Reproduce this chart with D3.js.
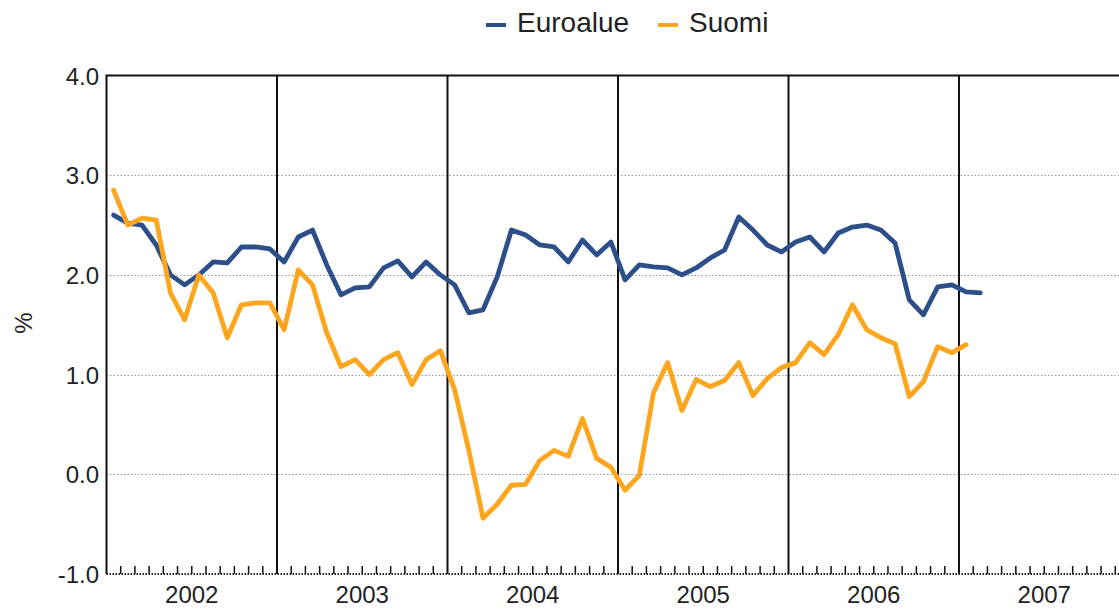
<!DOCTYPE html>
<html>
<head>
<meta charset="utf-8">
<script src="https://cdn.jsdelivr.net/npm/d3@7"></script>
<style>
  body { margin: 0; background: #fff; }
  svg { display: block; font-family: "Liberation Sans", Arial, sans-serif; }
</style>
</head>
<body>
<svg width="1119" height="609"></svg>
<script>
// kuukausittaiset arvot tammikuusta 2002 alkaen (%)
const years = [2002, 2003, 2004, 2005, 2006, 2007];
const yTicks = [-1, 0, 1, 2, 3, 4];

const euroalue = [
  2.6, 2.52, 2.5, 2.3, 2.0, 1.9, 2.0, 2.13, 2.12, 2.28, 2.28, 2.26,
  2.13, 2.38, 2.45, 2.1, 1.8, 1.87, 1.88, 2.07, 2.14, 1.98, 2.13, 2.0,
  1.9, 1.62, 1.65, 1.98, 2.45, 2.4, 2.3, 2.28, 2.13, 2.35, 2.2, 2.33,
  1.95, 2.1, 2.08, 2.07, 2.0, 2.07, 2.17, 2.25, 2.58, 2.45, 2.3, 2.23,
  2.33, 2.38, 2.23, 2.42, 2.48, 2.5, 2.45, 2.32, 1.75, 1.6, 1.88, 1.9,
  1.83, 1.82
];
const suomi = [
  2.85, 2.5, 2.57, 2.55, 1.82, 1.55, 2.0, 1.82, 1.37, 1.7, 1.72, 1.72,
  1.45, 2.05, 1.9, 1.42, 1.08, 1.15, 1.0, 1.15, 1.22, 0.9, 1.15, 1.24,
  0.85, 0.24, -0.44, -0.3, -0.11, -0.1, 0.14, 0.24, 0.18, 0.56, 0.16, 0.07,
  -0.16, -0.01, 0.82, 1.12, 0.64, 0.95, 0.88, 0.94, 1.12, 0.79, 0.96, 1.07,
  1.12, 1.32, 1.2, 1.4, 1.7, 1.45, 1.37, 1.31, 0.78, 0.93, 1.28, 1.22,
  1.3
];

const series = [
  {name: "Euroalue", values: euroalue, color: "#2c4f8a"},
  {name: "Suomi", values: suomi, color: "#fda51c"}
];

const svg = d3.select("svg");
const nMonths = years.length * 12;

// x: kuukausi-indeksi, y: prosentti
const x = d3.scaleLinear().domain([0, nMonths]).range([106.5, 1129.5]);
const y = d3.scaleLinear().domain([-1, 4]).range([574, 75.5]);
const plotL = x(0), plotR = x(nMonths), plotT = y(4), plotB = y(-1);

// vaakasuorat apuviivat
svg.append("g")
  .selectAll("line")
  .data(yTicks.filter(d => d > -1 && d < 4))
  .join("line")
  .attr("x1", plotL).attr("x2", plotR)
  .attr("y1", d => Math.round(y(d)) + 0.5).attr("y2", d => Math.round(y(d)) + 0.5)
  .attr("stroke", "#999")
  .attr("stroke-width", 1.2)
  .attr("stroke-dasharray", "1.5,2");

// kuukausimerkit alareunassa
const monthTicks = d3.range(1, nMonths).filter(i => i % 12 !== 0);
svg.append("g")
  .selectAll("line")
  .data(monthTicks)
  .join("line")
  .attr("x1", d => x(d)).attr("x2", d => x(d))
  .attr("y1", plotB - 8).attr("y2", plotB)
  .attr("stroke", "#111")
  .attr("stroke-width", 1.5);

// alareuna pisteviivana
svg.append("line")
  .attr("x1", plotL).attr("x2", plotR)
  .attr("y1", plotB).attr("y2", plotB)
  .attr("stroke", "#222")
  .attr("stroke-width", 2)
  .attr("stroke-dasharray", "1.5,1.5");

// vuosirajat
svg.append("g")
  .selectAll("line")
  .data(d3.range(1, years.length))
  .join("line")
  .attr("x1", d => x(d * 12)).attr("x2", d => x(d * 12))
  .attr("y1", plotT).attr("y2", plotB)
  .attr("stroke", "#111")
  .attr("stroke-width", 2);

// kehys: vasen ja ylä
svg.append("path")
  .attr("d", `M ${plotL} ${plotB} L ${plotL} ${plotT} L ${plotR} ${plotT}`)
  .attr("fill", "none")
  .attr("stroke", "#111")
  .attr("stroke-width", 2);

// y-akselin luvut (tavallinen tavuviiva miinusmerkkinä)
svg.append("g")
  .selectAll("text")
  .data(yTicks)
  .join("text")
  .attr("x", 99)
  .attr("y", d => y(d) + 9)
  .attr("text-anchor", "end")
  .attr("font-size", 24)
  .attr("fill", "#222")
  .text(d => d.toFixed(1));

// vuosiluvut
svg.append("g")
  .selectAll("text")
  .data(years)
  .join("text")
  .attr("x", (d, i) => x(i * 12 + 6))
  .attr("y", 603)
  .attr("text-anchor", "middle")
  .attr("font-size", 24)
  .attr("fill", "#222")
  .text(d => d);

// y-akselin otsikko
svg.append("text")
  .attr("transform", "translate(32,323) rotate(-90)")
  .attr("text-anchor", "middle")
  .attr("font-size", 24)
  .attr("fill", "#222")
  .text("%");

// sarjat
const line = d3.line()
  .x((d, i) => x(i + 0.5))
  .y(d => y(d));

svg.append("g")
  .selectAll("path")
  .data(series)
  .join("path")
  .attr("d", d => line(d.values))
  .attr("fill", "none")
  .attr("stroke", d => d.color)
  .attr("stroke-width", 4.8)
  .attr("stroke-linejoin", "round")
  .attr("stroke-linecap", "round");

// selite
const legendX = [486, 658];
const legend = svg.append("g")
  .selectAll("g")
  .data(series)
  .join("g")
  .attr("transform", (d, i) => `translate(${legendX[i]},25)`);
legend.append("rect")
  .attr("x", 0).attr("y", -2)
  .attr("width", 20).attr("height", 4)
  .attr("fill", d => d.color);
legend.append("text")
  .attr("x", 31).attr("y", 7)
  .attr("font-size", 28)
  .attr("fill", "#222")
  .text(d => d.name);
</script>
</body>
</html>
